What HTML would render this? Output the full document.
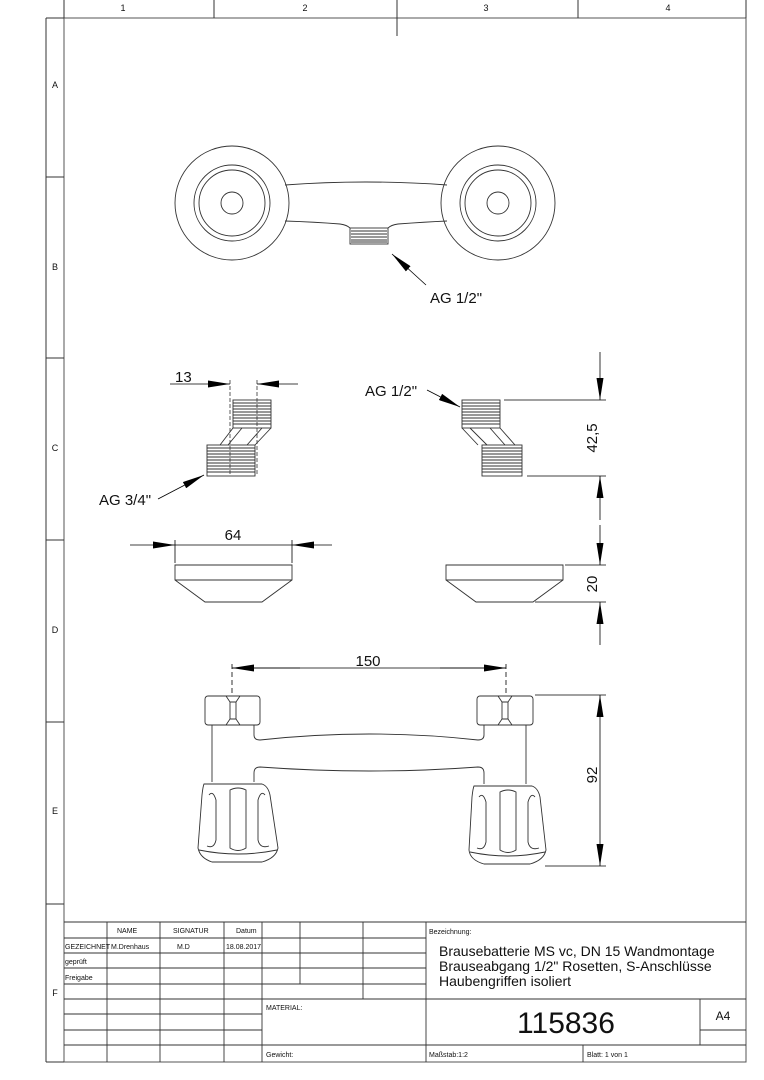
<!DOCTYPE html>
<html><head><meta charset="utf-8"><style>
html,body{margin:0;padding:0;background:#fff;}
svg{display:block;}
text{font-family:"Liberation Sans",sans-serif;fill:#111;}
</style></head><body>
<svg width="764" height="1080" viewBox="0 0 764 1080" xmlns="http://www.w3.org/2000/svg">
<defs>
<marker id="arL" viewBox="0 0 22 7" refX="22" refY="3.5" markerWidth="22" markerHeight="7" markerUnits="userSpaceOnUse" orient="auto"><path d="M0,0 L22,3.5 L0,7 Z" fill="#000"/></marker>
</defs>
<g fill="none" stroke="#333" stroke-width="1">
<rect x="64" y="18" width="682" height="1044" stroke="#555"/>
<line x1="46" y1="18" x2="64" y2="18"/>
<line x1="46" y1="18" x2="46" y2="1062"/>
<line x1="46" y1="1062" x2="64" y2="1062"/>
<line x1="64" y1="0" x2="64" y2="18"/>
<line x1="214" y1="0" x2="214" y2="18"/>
<line x1="397" y1="0" x2="397" y2="36"/>
<line x1="578" y1="0" x2="578" y2="18"/>
<line x1="746" y1="0" x2="746" y2="18"/>
<line x1="46" y1="177" x2="64" y2="177"/>
<line x1="46" y1="358" x2="64" y2="358"/>
<line x1="46" y1="540" x2="64" y2="540"/>
<line x1="46" y1="722" x2="64" y2="722"/>
<line x1="46" y1="904" x2="64" y2="904"/>
</g>
<g font-size="9" text-anchor="middle">
<text x="123" y="11">1</text><text x="305" y="11">2</text><text x="486" y="11">3</text><text x="668" y="11">4</text>
<text x="55" y="88">A</text><text x="55" y="270">B</text><text x="55" y="451">C</text><text x="55" y="633">D</text><text x="55" y="814">E</text><text x="55" y="996">F</text>
</g>

<g fill="none" stroke="#333" stroke-width="0.9">
<circle cx="232" cy="203" r="57"/><circle cx="232" cy="203" r="38"/><circle cx="232" cy="203" r="33"/><circle cx="232" cy="203" r="11"/>
<circle cx="498" cy="203" r="57"/><circle cx="498" cy="203" r="38"/><circle cx="498" cy="203" r="33"/><circle cx="498" cy="203" r="11"/>
<path d="M285,185 Q365,179 447,185"/>
<path d="M285,221 Q315,222 340,224 Q347,225 350,228 M388,228 Q391,225 398,224 Q425,222 447,221"/>
<rect x="350" y="228" width="38" height="16"/>
<path d="M351,231H387M351,234H387M351,237H387M351,240H387M351,242H387"/>
</g>
<line x1="426" y1="285" x2="392" y2="254" stroke="#000" stroke-width="0.8" marker-end="url(#arL)"/>
<text x="430" y="303" font-size="15">AG 1/2"</text>

<g fill="none" stroke="#333" stroke-width="0.9">
<rect x="233" y="400" width="38" height="28"/>
<path d="M233,403H271M233,406H271M233,409H271M233,412H271M233,415H271M233,418H271M233,421H271M233,424H271"/>
<path d="M233,428 L220,445 M271,428 L255,445 M242,428 L228,445 M262,428 L247,445"/>
<rect x="207" y="445" width="48" height="31"/>
<path d="M207,448H255M207,451H255M207,454H255M207,457H255M207,460H255M207,463H255M207,466H255M207,469H255M207,472H255"/>
<rect x="462" y="400" width="38" height="28"/>
<path d="M462,403H500M462,406H500M462,409H500M462,412H500M462,415H500M462,418H500M462,421H500M462,424H500"/>
<path d="M462,428 L478,445 M500,428 L515,445 M470,428 L487,445 M490,428 L505,445"/>
<rect x="482" y="445" width="40" height="31"/>
<path d="M482,448H522M482,451H522M482,454H522M482,457H522M482,460H522M482,463H522M482,466H522M482,469H522M482,472H522"/>
</g>
<g stroke="#333" stroke-width="0.8" stroke-dasharray="4,2" fill="none">
<line x1="230" y1="380" x2="230" y2="476"/><line x1="257" y1="380" x2="257" y2="476"/>
</g>
<g stroke="#000" stroke-width="0.8" fill="none">
<line x1="170" y1="384" x2="230" y2="384" marker-end="url(#arL)"/>
<line x1="298" y1="384" x2="257" y2="384" marker-end="url(#arL)"/>
<line x1="158" y1="499" x2="204" y2="475" marker-end="url(#arL)"/>
<line x1="427" y1="390" x2="460" y2="407" marker-end="url(#arL)"/>
<line x1="504" y1="400" x2="606" y2="400"/><line x1="527" y1="476" x2="606" y2="476"/>
<line x1="600" y1="352" x2="600" y2="400" marker-end="url(#arL)"/>
<line x1="600" y1="520" x2="600" y2="476" marker-end="url(#arL)"/>
<line x1="565" y1="565" x2="606" y2="565"/><line x1="535" y1="602" x2="606" y2="602"/>
<line x1="600" y1="525" x2="600" y2="565" marker-end="url(#arL)"/>
<line x1="600" y1="645" x2="600" y2="602" marker-end="url(#arL)"/>
<line x1="130" y1="545" x2="175" y2="545" marker-end="url(#arL)"/>
<line x1="332" y1="545" x2="292" y2="545" marker-end="url(#arL)"/>
<line x1="175" y1="545" x2="292" y2="545"/>
<line x1="175" y1="540" x2="175" y2="563"/><line x1="292" y1="540" x2="292" y2="563"/>
</g>
<text x="175" y="382" font-size="15">13</text>
<text x="99" y="505" font-size="15">AG 3/4"</text>
<text x="365" y="396" font-size="15">AG 1/2"</text>
<text x="233" y="540" font-size="15" text-anchor="middle">64</text>
<text transform="translate(597,438) rotate(-90)" font-size="15" text-anchor="middle">42,5</text>
<text transform="translate(597,584) rotate(-90)" font-size="15" text-anchor="middle">20</text>

<g fill="none" stroke="#333" stroke-width="0.9">
<path d="M175,565H292V580L262,602H205L175,580Z M175,580H292"/>
<path d="M446,565H563V580L533,602H476L446,580Z M446,580H563"/>
</g>

<g stroke="#000" stroke-width="0.8" fill="none">
<line x1="232" y1="668" x2="506" y2="668"/>
<line x1="300" y1="668" x2="232" y2="668" marker-end="url(#arL)"/>
<line x1="440" y1="668" x2="506" y2="668" marker-end="url(#arL)"/>
<line x1="232" y1="664" x2="232" y2="695" stroke-dasharray="5,3"/>
<line x1="506" y1="664" x2="506" y2="695" stroke-dasharray="5,3"/>
<line x1="535" y1="695" x2="606" y2="695"/><line x1="545" y1="866" x2="606" y2="866"/>
<line x1="600" y1="780" x2="600" y2="695" marker-end="url(#arL)"/>
<line x1="600" y1="780" x2="600" y2="866" marker-end="url(#arL)"/>
</g>
<text x="368" y="666" font-size="15" text-anchor="middle">150</text>
<text transform="translate(597,775) rotate(-90)" font-size="15" text-anchor="middle">92</text>

<g fill="none" stroke="#333" stroke-width="0.9">
<rect x="205" y="696" width="55" height="29" rx="3"/>
<path d="M226,696 L230,702 V719 L226,725 M240,696 L236,702 V719 L240,725 M230,702H236 M230,719H236"/>
<path d="M212,725V782 M254,725V735 Q254,740 260,740 Q370,728 478,740 Q484,740 484,735 V725"/>
<path d="M254,782V773 Q254,767 260,767 Q370,775 478,767 Q484,767 484,773 V784"/>
<path d="M526,725V784"/>
<rect x="477" y="696" width="56" height="29" rx="3"/>
<path d="M498,696 L502,702 V719 L498,725 M512,696 L508,702 V719 L512,725 M502,702H508 M502,719H508"/>
<path d="M204,784 H262 Q268,786 270,795 L278,848 Q276,858 262,862 H212 Q200,858 198,848 L202,795 Q203,786 204,784Z"/>
<path d="M199,850 Q238,858 277,850"/>
<path d="M209,795 Q213,790 216,800 V840 Q214,849 207,846"/>
<path d="M230,790 Q238,786 246,790 V848 Q238,853 230,848Z"/>
<path d="M265,795 Q261,790 258,800 V840 Q260,849 269,846"/>
<path d="M474,786 H532 Q538,788 540,797 L546,850 Q544,860 530,864 H484 Q470,860 469,850 L472,797 Q473,788 474,786Z"/>
<path d="M470,852 Q508,860 545,852"/>
<path d="M479,797 Q483,792 486,802 V842 Q484,851 477,848"/>
<path d="M500,792 Q508,788 516,792 V850 Q508,855 500,850Z"/>
<path d="M535,797 Q531,792 528,802 V842 Q530,851 539,848"/>
</g>

<g fill="none" stroke="#333" stroke-width="0.9">
<line x1="64" y1="922" x2="746" y2="922"/>
<line x1="64" y1="938" x2="426" y2="938"/>
<line x1="64" y1="953" x2="426" y2="953"/>
<line x1="64" y1="968" x2="426" y2="968"/>
<line x1="64" y1="984" x2="426" y2="984"/>
<line x1="64" y1="999" x2="746" y2="999"/>
<line x1="64" y1="1014" x2="262" y2="1014"/>
<line x1="64" y1="1030" x2="262" y2="1030"/>
<line x1="700" y1="1030" x2="746" y2="1030"/>
<line x1="64" y1="1045" x2="746" y2="1045"/>
<line x1="107" y1="922" x2="107" y2="1062"/>
<line x1="160" y1="922" x2="160" y2="1062"/>
<line x1="224" y1="922" x2="224" y2="1062"/>
<line x1="262" y1="922" x2="262" y2="1062"/>
<line x1="300" y1="922" x2="300" y2="984"/>
<line x1="363" y1="922" x2="363" y2="999"/>
<line x1="426" y1="922" x2="426" y2="1062"/>
<line x1="700" y1="999" x2="700" y2="1045"/>
<line x1="583" y1="1045" x2="583" y2="1062"/>
</g>
<g font-size="7">
<text x="117" y="933">NAME</text><text x="173" y="933">SIGNATUR</text><text x="236" y="933">Datum</text>
<text x="65" y="949">GEZEICHNET</text><text x="111" y="949">M.Drenhaus</text><text x="177" y="949">M.D</text><text x="226" y="949">18.08.2017</text>
<text x="65" y="964">geprüft</text><text x="65" y="980">Freigabe</text>
<text x="429" y="934">Bezeichnung:</text>
<text x="266" y="1010">MATERIAL:</text>
<text x="266" y="1057">Gewicht:</text>
<text x="429" y="1057">Maßstab:1:2</text>
<text x="587" y="1057">Blatt: 1 von 1</text>
</g>
<g font-size="14">
<text x="439" y="956">Brausebatterie MS vc, DN 15 Wandmontage</text>
<text x="439" y="971">Brauseabgang 1/2" Rosetten, S-Anschlüsse</text>
<text x="439" y="986">Haubengriffen isoliert</text>
</g>
<text x="566" y="1033" font-size="30" text-anchor="middle">115836</text>
<text x="723" y="1020" font-size="12" text-anchor="middle">A4</text>
</svg>
</body></html>
